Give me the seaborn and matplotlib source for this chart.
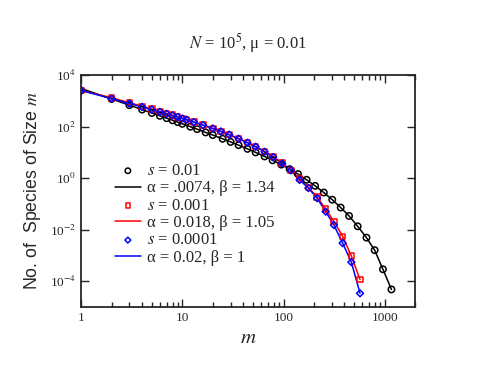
import matplotlib
matplotlib.use("Agg")
import matplotlib.pyplot as plt
import matplotlib.ticker as mticker
import seaborn as sns

sns.set_style("ticks")
plt.rcParams['font.family'] = ['Liberation Serif', 'DejaVu Serif']
plt.rcParams['mathtext.fontset'] = 'stix'

# s = 0.01 (black circles) and its fit alpha = .0074, beta = 1.34
m_black = [1, 2, 3, 4, 5, 6, 7, 8, 9, 10, 12, 14, 17, 20, 25, 30, 36, 44, 53,
           65, 78, 95, 115, 139, 169, 205, 250, 303, 367, 444, 540, 660, 795,
           960, 1165]
n_black = [2500, 1170, 673, 454, 334, 260, 210, 174, 148, 127, 98, 79, 59,
           46.7, 33.4, 25.2, 18.9, 13.6, 9.9, 6.9, 4.9, 3.33, 2.22, 1.43,
           0.86, 0.50, 0.275, 0.145, 0.072, 0.034, 0.0135, 0.0049, 0.0016,
           2.9e-4, 4.8e-5]
fit_black = [2980] + n_black[1:]

# s = 0.001 (red squares) and s = 0.0001 (blue diamonds)
m_rb = [1, 2, 3, 4, 5, 6, 7, 8, 9, 10, 11, 13, 16, 20, 24, 29, 36, 44, 53, 65,
        79, 97, 118, 144, 176, 215, 261, 315, 384, 468, 570]
n_red = [2500, 1304, 837, 608, 472, 383, 320, 273, 237, 208, 185, 150, 114,
         84, 64.6, 48.4, 34.0, 23.9, 16.7, 10.8, 6.86, 3.8, 2.0, 0.95, 0.43,
         0.185, 0.062, 0.021, 0.0055, 9.5e-4, 1.15e-4]
n_blue = [2500, 1202, 785, 577, 453, 370, 310, 267, 232, 205, 182, 148, 113,
          83.8, 64.5, 48.3, 33.8, 23.6, 16.4, 10.5, 6.5, 3.7, 2.0, 0.85, 0.41,
          0.166, 0.050, 0.015, 0.0030, 5.5e-4, 3.4e-5]

obs_labels = ['$s$ = 0.01', '$s$ = 0.001', '$s$ = 0.0001']
fit_labels = ['α = .0074, β = 1.34', 'α = 0.018, β = 1.05', 'α = 0.02, β = 1']

x_ticks = [1, 10, 100, 1000]
x_tick_labels = ['1', '10', '100', '1000']
y_ticks = [1e-4, 1e-2, 1, 1e2, 1e4]
y_tick_labels = [r'10$^{-4}$', r'10$^{-2}$', r'10$^{0}$', r'10$^{2}$', r'10$^{4}$']

fig, ax = plt.subplots(figsize=(4.8, 3.71), dpi=100)
fig.subplots_adjust(left=0.169, right=0.865, top=0.798, bottom=0.1725)

series = [
    (m_black, n_black, fit_black, 'black', 'o', 4.6),
    (m_rb, n_red, n_red, 'red', 's', 4.0),
    (m_rb, n_blue, n_blue, 'blue', 'D', 3.5),
]
handles = []
for mx, ny, fy, col, mk, ms in series:
    sns.lineplot(x=mx, y=fy, color=col, lw=1.1, ax=ax, sort=False,
                 estimator=None)
    line = ax.lines[-1]
    sns.scatterplot(x=mx, y=ny, marker=mk, s=ms ** 2, facecolor='none',
                    edgecolor=col, linewidth=1.1, ax=ax, zorder=3)
    coll = ax.collections[-1]
    handles += [coll, line]

labels = [obs_labels[0], fit_labels[0], obs_labels[1], fit_labels[1],
          obs_labels[2], fit_labels[2]]
ax.legend(handles, labels, loc='upper left', bbox_to_anchor=(0.1, 0.62),
          frameon=False, fontsize=12, borderpad=0, borderaxespad=0,
          labelspacing=0.08, handlelength=1.6, handletextpad=0.35,
          scatterpoints=1, markerscale=0.85)

ax.set_xscale('log')
ax.set_yscale('log')
ax.set_xlim(1, 2000)
ax.set_ylim(1e-5, 1e4)
ax.set_xticks(x_ticks, labels=x_tick_labels)
ax.set_yticks(y_ticks, labels=y_tick_labels)
ax.yaxis.set_minor_locator(mticker.NullLocator())
ax.tick_params(which='both', direction='in', top=True, right=True,
               labelsize=9.5, width=1)
ax.tick_params(which='major', length=6)
ax.tick_params(which='minor', length=3.5)
for sp in ax.spines.values():
    sp.set_linewidth(1.3)

ax.set_xlabel('$m$', fontsize=15, labelpad=4)
ax.set_ylabel('No. of  Species of Size $m$', fontsize=12.8,
              family=['Liberation Sans', 'DejaVu Sans'], labelpad=5)
ax.set_title('$N$ = 10$^5$, μ = 0.01', fontsize=12, pad=19)

fig.savefig('out.png', dpi=100)
